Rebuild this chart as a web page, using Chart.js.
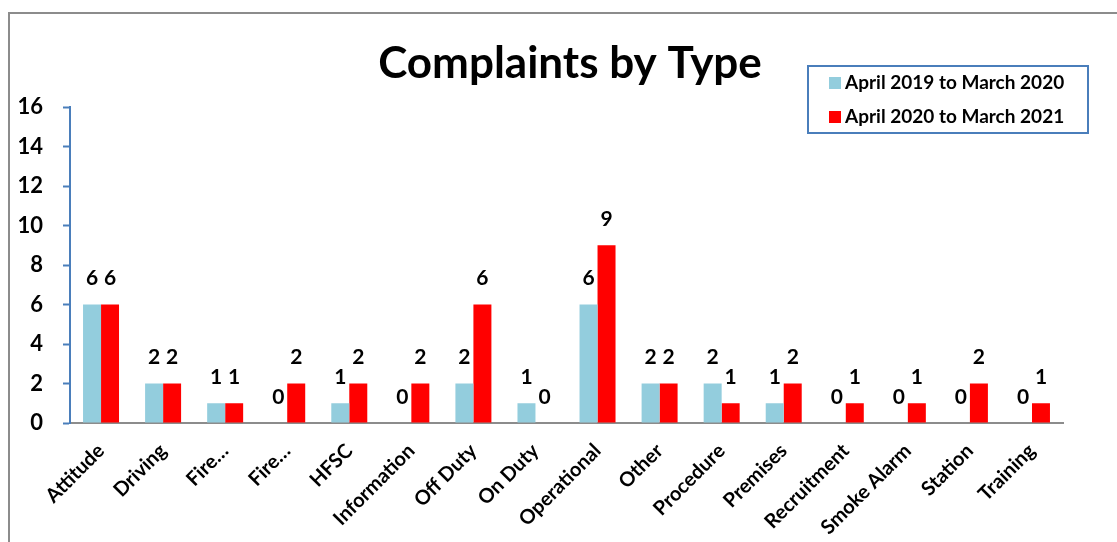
<!DOCTYPE html>
<html>
<head>
<meta charset="utf-8">
<script src="https://cdn.jsdelivr.net/npm/chart.js@4.4.1/dist/chart.umd.min.js"></script>
<style>
  body { margin: 0; background: #fff; overflow: hidden; }
  #frame { position: absolute; left: 8px; top: 12px; width: 1200px; height: 600px; border: 2px solid #8c8c8c; }
  canvas { position: absolute; left: 0; top: 0; }
</style>
</head>
<body>
<div id="frame"></div>
<canvas id="grafico" width="1117" height="542"></canvas>
<script>
let titulo = "Complaints by Type";
let categorias = ["Attitude", "Driving", "Fire…", "Fire…", "HFSC", "Information", "Off Duty", "On Duty",
  "Operational", "Other", "Procedure", "Premises", "Recruitment", "Smoke Alarm", "Station", "Training"];
let ano2019 = [6, 2, 1, 0, 1, 0, 2, 1, 6, 2, 2, 1, 0, 0, 0, 0];
let ano2020 = [6, 2, 1, 2, 2, 2, 6, 0, 9, 2, 1, 2, 1, 1, 2, 1];
let nomes = ["April 2019 to March 2020", "April 2020 to March 2021"];
let cores = ["#93CDDD", "#FF0000"];

// rotulos em cima das barras
let rotulos = {
  id: 'rotulos',
  afterDatasetsDraw(chart) {
    let c = chart.ctx;
    c.save();
    c.font = "bold 21px Lato";
    c.fillStyle = "#000";
    c.textAlign = "center";
    c.textBaseline = "middle";
    chart.data.datasets.forEach((ds, i) => {
      chart.getDatasetMeta(i).data.forEach((bar, j) => {
        c.fillText(ds.data[j], bar.x, bar.y - 26);
      });
    });
    c.restore();
  }
};

// titulo e legenda com caixa
let legenda = {
  id: 'legenda',
  afterDraw(chart) {
    let c = chart.ctx;
    c.save();
    c.fillStyle = "#000";
    c.font = "bold 44px Lato";
    c.textAlign = "center";
    c.textBaseline = "middle";
    c.fillText(titulo, 570, 64);

    c.textAlign = "left";
    c.strokeStyle = "#4A7EBB";
    c.lineWidth = 2;
    c.strokeRect(808, 66, 280, 67);
    c.font = "bold 19px Lato";
    nomes.forEach((n, i) => {
      let y = 83 + i * 34;
      c.fillStyle = cores[i];
      c.fillRect(829, y - 6, 12, 12);
      c.fillStyle = "#000";
      c.fillText(n, 845, y);
    });
    c.restore();
  }
};

let ctx = document.getElementById('grafico');
let chart = new Chart(ctx, {
  type: 'bar',
  data: {
    labels: categorias,
    datasets: [
      { label: nomes[0], data: ano2019, backgroundColor: cores[0] },
      { label: nomes[1], data: ano2020, backgroundColor: cores[1] }
    ]
  },
  options: {
    responsive: false,
    animation: false,
    layout: { padding: { top: 107, right: 54, left: 0, bottom: 0 } },
    datasets: { bar: { categoryPercentage: 0.58, barPercentage: 1 } },
    plugins: {
      legend: { display: false },
      tooltip: { enabled: false },
      title: { display: false }
    },
    scales: {
      x: {
        grid: { display: false },
        border: { color: "#8c8c8c", width: 2 },
        ticks: {
          color: "#000", maxRotation: 45, minRotation: 45, autoSkip: false, padding: 8,
          font: { family: "Lato", size: 20, weight: "bold" }
        },
        afterFit: s => { s.height = 119; }
      },
      y: {
        min: 0, max: 16,
        grid: { drawOnChartArea: false, tickLength: 7, color: "#4A7EBB", tickWidth: 2 },
        border: { color: "#4A7EBB", width: 2 },
        ticks: {
          stepSize: 2, color: "#000", padding: 20,
          font: { family: "Lato", size: 22, weight: "bold" }
        },
        afterFit: s => { s.width = 70; }
      }
    }
  },
  plugins: [rotulos, legenda]
});
</script>
</body>
</html>
